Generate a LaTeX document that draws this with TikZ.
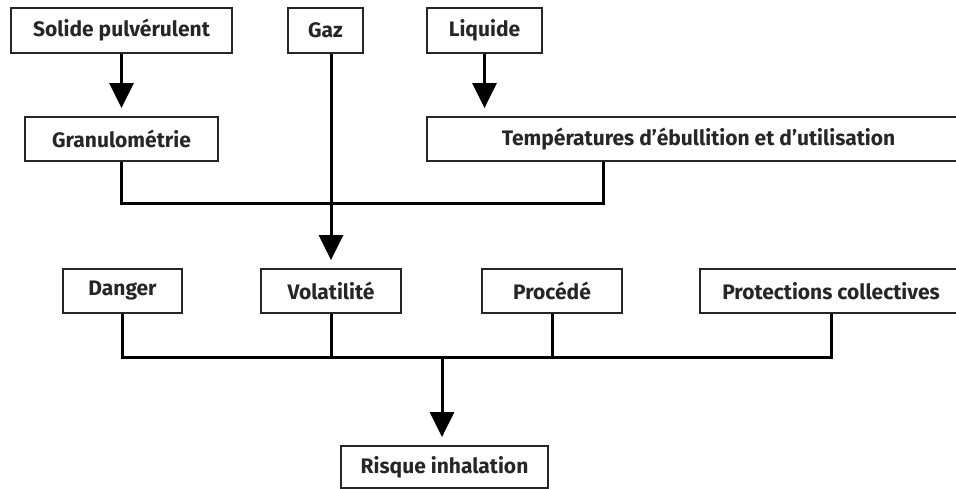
\documentclass[tikz,border=0pt]{standalone}
\usepackage{fontspec}
\setmainfont{Fira Sans}[BoldFont={Fira Sans Bold}]
\usetikzlibrary{arrows.meta}
\tikzset{
  box/.style={draw=black!85, line width=1.8pt, fill=white, inner sep=0pt,
    font=\bfseries\fontsize{21}{24}\selectfont, text=black!85},
  link/.style={draw=black, line width=3pt},
  arr/.style={link, -{Triangle[width=24pt,length=25pt]}, shorten >=8pt}
}
\begin{document}
\begin{tikzpicture}[x=1pt,y=-1pt]
\useasboundingbox (0,0) rectangle (956,488);
\clip (0,0) rectangle (956,488);
% top row
\node[box, minimum width=221pt, minimum height=45pt] (solide) at (121.5,30.5) {Solide pulvérulent};
\node[box, minimum width=75pt, minimum height=45pt] (gaz) at (325.5,30.5) {Gaz};
\node[box, minimum width=115pt, minimum height=45pt] (liquide) at (484.5,30.5) {Liquide};
% second row
\node[box, minimum width=193pt, minimum height=44pt] (granulo) at (121.5,139) {Granulométrie};
\node[box, minimum width=543pt, minimum height=44pt] (temp) at (698.5,139) {Températures d'ébullition et d'utilisation};
% third row
\node[box, minimum width=119pt, minimum height=44pt] (danger) at (122.5,291) {Danger};
\node[box, minimum width=140pt, minimum height=44pt] (volat) at (331,291) {Volatilité};
\node[box, minimum width=140pt, minimum height=44pt] (proc) at (552,291) {Procédé};
\node[box, minimum width=262pt, minimum height=44pt] (prot) at (831,291) {Protections collectives};
% bottom
\node[box, minimum width=207pt, minimum height=42pt] (risque) at (444.5,467) {Risque inhalation};
% junctions
\coordinate (tjoin) at (603,203);
\coordinate (bjoin) at (442,357);
% connectors
\draw[arr] (solide.south) -- (granulo.north);
\draw[arr] (liquide.south) -- (liquide.south |- temp.north);
\draw[link] (granulo.south) |- (tjoin) -- (tjoin |- temp.south);
\draw[arr] (gaz.south -| volat.north) -- (volat.north);
\draw[link] (danger.south) |- (bjoin -| prot.south) -- (prot.south);
\draw[link] (volat.south) -- (volat.south |- bjoin);
\draw[link] (proc.south) -- (proc.south |- bjoin);
\draw[arr] (bjoin) -- (bjoin |- risque.north);
\end{tikzpicture}
\end{document}
